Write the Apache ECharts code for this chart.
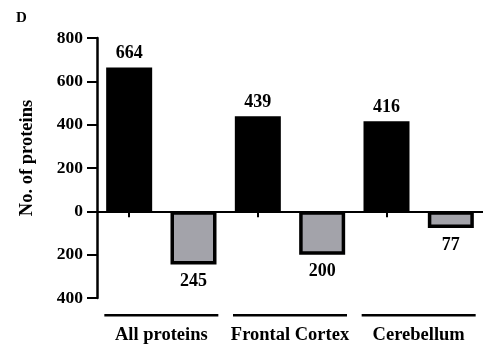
<!DOCTYPE html>
<html><head><meta charset="utf-8">
<script src="https://cdn.jsdelivr.net/npm/echarts@6/dist/echarts.min.js"></script>
<style>html,body{margin:0;padding:0;background:#fff}#c{width:483px;height:352px}</style>
</head><body><div id="c"></div>
<script>
const panelLetter = 'D';
const yTitle = 'No. of proteins';
const groups = ['All proteins', 'Frontal Cortex', 'Cerebellum'];
const upValues = [664, 439, 416];
const downValues = [245, 200, 77];
const yMin = -400, yMax = 800, yStep = 200;

const slots = [];
const upData = [];
const downData = [];
groups.forEach((g, i) => {
  slots.push(g + ' up'); slots.push(g + ' down');
  upData.push(upValues[i], null);
  downData.push(null, -downValues[i]);
});

const FONT = 'Liberation Serif';
const chart = echarts.init(document.getElementById('c'), null, {renderer: 'canvas'});
chart.setOption({
  animation: false,
  backgroundColor: '#fff',
  title: {text: panelLetter, left: 11, top: 6,
    textStyle: {fontFamily: FONT, fontWeight: 'bold', fontSize: 15, color: '#000'}},
  grid: {left: 97, right: -5, top: 38, bottom: 54, containLabel: false},
  xAxis: [{
    type: 'category', data: slots, position: 'bottom',
    axisLine: {onZero: true, lineStyle: {color: '#000', width: 2}},
    axisTick: {show: true, alignWithLabel: true, interval: 0, length: 6, lineStyle: {color: '#000', width: 2}},
    axisLabel: {show: false}, splitLine: {show: false}
  }, {
    type: 'category', data: groups, position: 'bottom',
    axisLine: {show: false, onZero: false}, axisTick: {show: false}, splitLine: {show: false},
    axisLabel: {
      interval: 0, margin: 16,
      formatter: v => '{l| }\n{t|' + v + '}',
      rich: {
        l: {width: 114, height: 2.5, lineHeight: 2.5, backgroundColor: '#000', fontSize: 1},
        t: {fontFamily: FONT, fontWeight: 'bold', fontSize: 18.5, color: '#000', lineHeight: 38}
      }
    }
  }],
  yAxis: {
    type: 'value', min: yMin, max: yMax, interval: yStep,
    name: yTitle, nameLocation: 'middle', nameRotate: 90, nameGap: 60,
    nameTextStyle: {fontFamily: FONT, fontWeight: 'bold', fontSize: 18.5, color: '#000', padding: [0, 0, 0, 20]},
    axisLine: {show: true, onZero: false, lineStyle: {color: '#000', width: 2.5}},
    axisTick: {show: true, length: 10, lineStyle: {color: '#000', width: 2}},
    axisLabel: {margin: 14, fontFamily: FONT, fontWeight: 'bold', fontSize: 17.5, color: '#000',
      formatter: v => String(Math.abs(v))},
    splitLine: {show: false}
  },
  series: [{
    type: 'bar', data: upData, barWidth: 46, barGap: '-100%', xAxisIndex: 0,
    itemStyle: {color: '#000', borderColor: '#000', borderWidth: 3},
    label: {show: true, position: 'top', distance: 5, fontFamily: FONT, fontWeight: 'bold', fontSize: 18, color: '#000'}
  }, {
    type: 'bar', data: downData, barWidth: 46, barGap: '-100%', xAxisIndex: 0,
    itemStyle: {color: '#a3a3aa', borderColor: '#000', borderWidth: 3.5},
    label: {show: true, position: 'bottom', distance: 8, fontFamily: FONT, fontWeight: 'bold', fontSize: 18, color: '#000',
      formatter: p => String(Math.abs(p.value))}
  }]
});
</script></body></html>
